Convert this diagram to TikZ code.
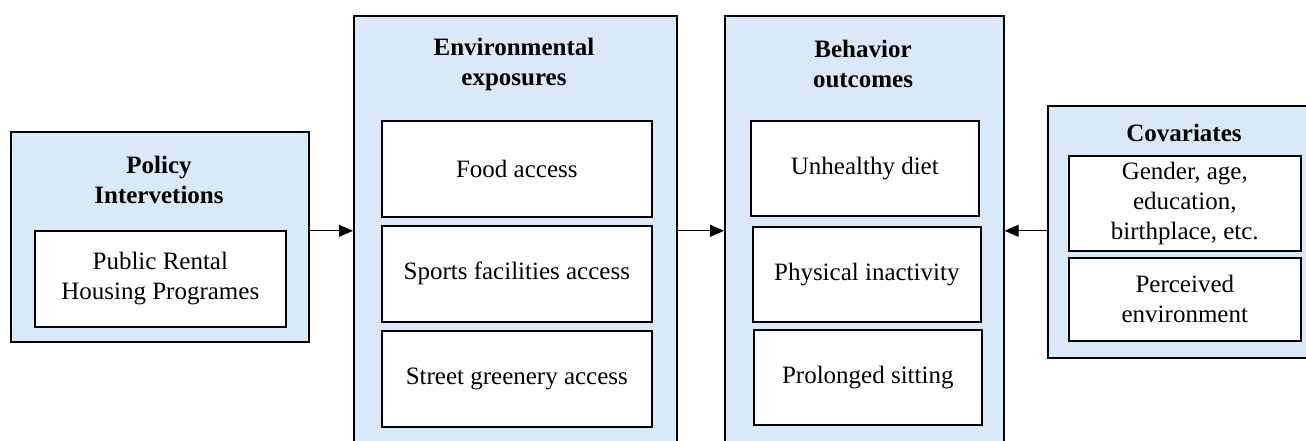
\documentclass[tikz,border=0pt]{standalone}
\usepackage{fontspec}
\setmainfont{Liberation Serif}
\usetikzlibrary{arrows.meta}
\definecolor{panelBlue}{RGB}{218,233,247}

\begin{document}
\begin{tikzpicture}[x=1pt,y=-1pt,
    panel/.style={draw=black,line width=1.6pt,fill=panelBlue,anchor=north west,inner sep=0pt},
    item/.style={draw=black,line width=1.6pt,fill=white,anchor=north west,inner sep=0pt,
      align=center,font=\fontsize{25}{30}\selectfont},
    heading/.style={align=center,font=\bfseries\fontsize{25}{30}\selectfont},
    link/.style={line width=0.8pt,-{Triangle[length=14pt,width=12pt]}}]
    \useasboundingbox (0,0) rectangle (1306,441);

    % Policy
    \node[panel,minimum width=298pt,minimum height=210pt] (policy) at (10,131) {};
    \node[heading] (policyTitle) at (159,180) {Policy\\Intervetions};
    \node[item,minimum width=251pt,minimum height=96pt] (rental) at (34,230) {Public Rental\\Housing Programes};

    % Environmental exposures
    \node[panel,minimum width=323pt,minimum height=430pt] (env) at (353,15) {};
    \node[heading] (envTitle) at (514,64) {Environmental\\exposures};
    \node[item,minimum width=270pt,minimum height=96pt] (food) at (381,120) {Food access};
    \node[item,minimum width=270pt,minimum height=96pt] (sports) at (381,225) {Sports facilities access};
    \node[item,minimum width=270pt,minimum height=96pt] (green) at (381,330) {Street greenery access};

    % Behavior outcomes
    \node[panel,minimum width=279pt,minimum height=430pt] (behav) at (724,15) {};
    \node[heading] (behavTitle) at (863,64) {Behavior\\outcomes};
    \node[item,minimum width=228pt,minimum height=95pt] (diet) at (750,120) {Unhealthy diet};
    \node[item,minimum width=228pt,minimum height=95pt] (inactive) at (752,226) {Physical inactivity};
    \node[item,minimum width=228pt,minimum height=95pt] (sitting) at (753,329) {Prolonged sitting};

    % Covariates
    \node[panel,minimum width=270pt,minimum height=252pt] (cov) at (1047,105) {};
    \node[heading] (covTitle) at (1184,133) {Covariates};
    \node[item,minimum width=232pt,minimum height=95pt] (demog) at (1068,155) {Gender, age,\\education,\\birthplace, etc.};
    \node[item,minimum width=232pt,minimum height=83pt] (perceived) at (1068,257) {Perceived\\environment};

    % Pfeile
    \draw[link] (policy.east |- env.west) -- (env.west);
    \draw[link] (env.east) -- (behav.west);
    \draw[link] (cov.west |- behav.east) -- (behav.east);
\end{tikzpicture}
\end{document}
